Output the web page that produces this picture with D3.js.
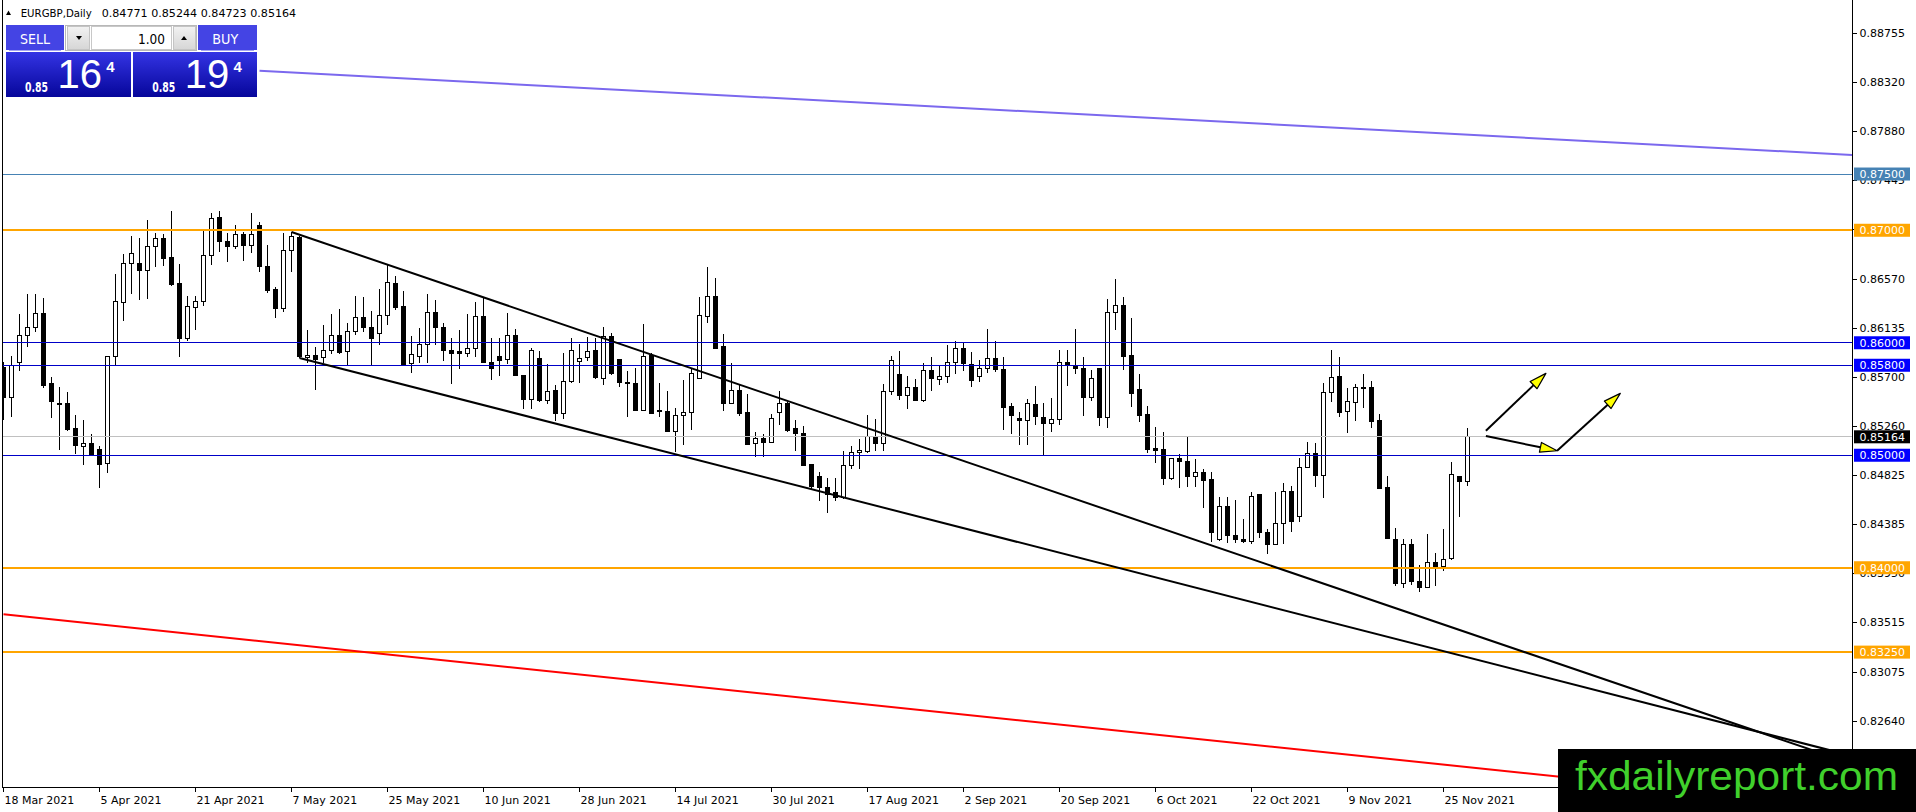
<!DOCTYPE html>
<html>
<head>
<meta charset="utf-8">
<script src="https://cdn.jsdelivr.net/npm/d3@7"></script>
<style>
  html, body { margin: 0; padding: 0; background: #fff; overflow: hidden; }
  svg { display: block; }
</style>
</head>
<body>
<div class="chart"></div>
<script>
// EURGBP daily bars, 18 Mar 2021 .. 30 Nov 2021 (one bar per trading day)
const openPrices = [
  0.85776, 0.85510, 0.85821, 0.86067, 0.86132, 0.86256, 0.85637, 0.85459, 0.85459, 0.85234,
  0.85080, 0.85101, 0.85050, 0.84923, 0.85874, 0.86354, 0.86701, 0.86704, 0.86644, 0.86852,
  0.86923, 0.86754, 0.86523, 0.86034, 0.86310, 0.86363, 0.86775, 0.87110, 0.86896, 0.86852,
  0.86961, 0.86867, 0.87041, 0.86680, 0.86473, 0.86301, 0.86822, 0.86932, 0.85865, 0.85886,
  0.85865, 0.85933, 0.86067, 0.85918, 0.86096, 0.86221, 0.86132, 0.86079, 0.86244, 0.86526,
  0.86319, 0.85815, 0.85881, 0.85985, 0.86267, 0.86133, 0.85935, 0.85926, 0.85908, 0.85947,
  0.86231, 0.85822, 0.85876, 0.85852, 0.86068, 0.85713, 0.85496, 0.85861, 0.85490, 0.85579,
  0.85369, 0.85653, 0.85837, 0.85867, 0.85932, 0.85680, 0.86059, 0.85849, 0.85650, 0.85639,
  0.85401, 0.85887, 0.85399, 0.85387, 0.85215, 0.85357, 0.85378, 0.85680, 0.86237, 0.86409,
  0.85964, 0.85458, 0.85576, 0.85378, 0.85102, 0.85150, 0.85111, 0.85378, 0.85461, 0.85239,
  0.85191, 0.84919, 0.84809, 0.84717, 0.84667, 0.84622, 0.84910, 0.85022, 0.85037, 0.85170,
  0.85102, 0.85564, 0.85719, 0.85535, 0.85600, 0.85487, 0.85754, 0.85674, 0.85698, 0.85822,
  0.85950, 0.85807, 0.85704, 0.85769, 0.85861, 0.85763, 0.85431, 0.85324, 0.85313, 0.85452,
  0.85333, 0.85280, 0.85318, 0.85822, 0.85793, 0.85772, 0.85517, 0.85772, 0.85333, 0.86267,
  0.86332, 0.85887, 0.85585, 0.85363, 0.85058, 0.85052, 0.84791, 0.84969, 0.84942, 0.84809,
  0.84844, 0.84785, 0.84252, 0.84548, 0.84290, 0.84252, 0.84231, 0.84652, 0.84311, 0.84207,
  0.84391, 0.84676, 0.84453, 0.84889, 0.85013, 0.84824, 0.85556, 0.85698, 0.85393, 0.85467,
  0.85597, 0.85600, 0.85310, 0.84711, 0.84252, 0.83861, 0.84210, 0.83881, 0.83822, 0.84044,
  0.84009, 0.84083, 0.84809, 0.84771
];
const highPrices = [
  0.85827, 0.85886, 0.86259, 0.86437, 0.86437, 0.86399, 0.85696, 0.85607, 0.85560, 0.85361,
  0.85317, 0.85190, 0.85080, 0.85874, 0.86615, 0.86793, 0.86953, 0.86932, 0.87095, 0.86976,
  0.86967, 0.87175, 0.86704, 0.86413, 0.86413, 0.86991, 0.87154, 0.87175, 0.86976, 0.87050,
  0.86985, 0.87154, 0.87074, 0.86873, 0.86496, 0.86976, 0.86985, 0.86953, 0.86117, 0.85960,
  0.86161, 0.86259, 0.86304, 0.86176, 0.86413, 0.86407, 0.86280, 0.86481, 0.86689, 0.86597,
  0.86458, 0.86058, 0.86127, 0.86436, 0.86376, 0.86178, 0.86044, 0.86116, 0.86258, 0.86364,
  0.86400, 0.86044, 0.86044, 0.86267, 0.86119, 0.85713, 0.85956, 0.85926, 0.85807, 0.85624,
  0.85905, 0.86039, 0.85985, 0.86050, 0.86044, 0.86142, 0.86089, 0.85849, 0.85748, 0.85778,
  0.86163, 0.85911, 0.85644, 0.85570, 0.85416, 0.85665, 0.85778, 0.86406, 0.86676, 0.86572,
  0.86080, 0.85822, 0.85636, 0.85547, 0.85209, 0.85185, 0.85363, 0.85570, 0.85476, 0.85313,
  0.85259, 0.84919, 0.84853, 0.84800, 0.84794, 0.85037, 0.85081, 0.85141, 0.85354, 0.85318,
  0.85630, 0.85881, 0.85926, 0.85704, 0.85680, 0.85822, 0.85873, 0.85793, 0.85976, 0.86015,
  0.86000, 0.85920, 0.85846, 0.86119, 0.86015, 0.85873, 0.85467, 0.85384, 0.85502, 0.85615,
  0.85467, 0.85511, 0.85932, 0.85932, 0.86119, 0.85876, 0.85754, 0.85772, 0.86391, 0.86563,
  0.86409, 0.86222, 0.85719, 0.85437, 0.85253, 0.85209, 0.84978, 0.85007, 0.85164, 0.84963,
  0.84880, 0.84853, 0.84628, 0.84628, 0.84598, 0.84430, 0.84673, 0.84652, 0.84347, 0.84676,
  0.84750, 0.84726, 0.84978, 0.85120, 0.85111, 0.85639, 0.85932, 0.85876, 0.85600, 0.85630,
  0.85724, 0.85659, 0.85363, 0.84815, 0.84350, 0.84252, 0.84252, 0.84024, 0.84299, 0.84127,
  0.84341, 0.84942, 0.84809, 0.85244
];
const lowPrices = [
  0.85317, 0.85341, 0.85747, 0.85963, 0.86093, 0.85598, 0.85332, 0.85044, 0.85213, 0.85012,
  0.84911, 0.84991, 0.84710, 0.84843, 0.85800, 0.86191, 0.86437, 0.86378, 0.86390, 0.86671,
  0.86680, 0.86508, 0.85874, 0.86013, 0.86111, 0.86324, 0.86695, 0.86804, 0.86716, 0.86834,
  0.86724, 0.86799, 0.86630, 0.86443, 0.86221, 0.86271, 0.86627, 0.85865, 0.85821, 0.85584,
  0.85821, 0.85904, 0.85904, 0.85797, 0.86073, 0.86096, 0.85806, 0.85984, 0.86161, 0.86295,
  0.85800, 0.85732, 0.85822, 0.85822, 0.85979, 0.85837, 0.85636, 0.85763, 0.85873, 0.85873,
  0.85819, 0.85668, 0.85704, 0.85807, 0.85710, 0.85407, 0.85407, 0.85476, 0.85452, 0.85304,
  0.85324, 0.85644, 0.85639, 0.85837, 0.85674, 0.85624, 0.85713, 0.85606, 0.85339, 0.85393,
  0.85393, 0.85372, 0.85339, 0.85209, 0.85031, 0.85090, 0.85221, 0.85674, 0.86178, 0.85941,
  0.85393, 0.85452, 0.85348, 0.85090, 0.84987, 0.84987, 0.85105, 0.85268, 0.85209, 0.85037,
  0.84904, 0.84696, 0.84593, 0.84489, 0.84593, 0.84607, 0.84874, 0.84874, 0.85022, 0.85037,
  0.85037, 0.85535, 0.85490, 0.85407, 0.85481, 0.85476, 0.85570, 0.85624, 0.85639, 0.85719,
  0.85748, 0.85606, 0.85650, 0.85727, 0.85739, 0.85224, 0.85191, 0.85087, 0.85087, 0.85268,
  0.84993, 0.85206, 0.85268, 0.85615, 0.85719, 0.85348, 0.85481, 0.85259, 0.85244, 0.86113,
  0.85757, 0.85431, 0.85295, 0.85022, 0.84933, 0.84735, 0.84779, 0.84711, 0.84720, 0.84720,
  0.84533, 0.84231, 0.84237, 0.84222, 0.84222, 0.84216, 0.84207, 0.84267, 0.84118, 0.84198,
  0.84207, 0.84317, 0.84409, 0.84883, 0.84717, 0.84616, 0.85473, 0.85342, 0.85200, 0.85304,
  0.85416, 0.85244, 0.84696, 0.84252, 0.83837, 0.83822, 0.83846, 0.83787, 0.83816, 0.83840,
  0.83970, 0.84070, 0.84453, 0.84723
];
const closePrices = [
  0.85510, 0.85800, 0.86064, 0.86132, 0.86256, 0.85622, 0.85474, 0.85447, 0.85228, 0.85089,
  0.85101, 0.85006, 0.84917, 0.85874, 0.86363, 0.86701, 0.86793, 0.86644, 0.86852, 0.86923,
  0.86745, 0.86517, 0.86034, 0.86319, 0.86363, 0.86778, 0.87101, 0.86902, 0.86852, 0.86961,
  0.86867, 0.86961, 0.86680, 0.86467, 0.86301, 0.86822, 0.86947, 0.85874, 0.85886, 0.85850,
  0.85933, 0.86067, 0.85916, 0.86096, 0.86221, 0.86132, 0.86034, 0.86244, 0.86532, 0.86316,
  0.85806, 0.85895, 0.85985, 0.86267, 0.86133, 0.85935, 0.85902, 0.85902, 0.85947, 0.86231,
  0.85822, 0.85769, 0.85846, 0.86068, 0.85713, 0.85496, 0.85935, 0.85490, 0.85564, 0.85369,
  0.85653, 0.85935, 0.85864, 0.85926, 0.85689, 0.86059, 0.85724, 0.85644, 0.85644, 0.85401,
  0.85876, 0.85372, 0.85387, 0.85215, 0.85357, 0.85378, 0.85724, 0.86243, 0.86409, 0.85947,
  0.85458, 0.85579, 0.85372, 0.85096, 0.85147, 0.85111, 0.85324, 0.85458, 0.85224, 0.85191,
  0.84913, 0.84726, 0.84711, 0.84652, 0.84628, 0.84910, 0.85022, 0.85043, 0.85170, 0.85102,
  0.85564, 0.85843, 0.85535, 0.85600, 0.85487, 0.85754, 0.85680, 0.85704, 0.85822, 0.85950,
  0.85813, 0.85668, 0.85772, 0.85861, 0.85763, 0.85428, 0.85357, 0.85313, 0.85461, 0.85342,
  0.85280, 0.85318, 0.85822, 0.85799, 0.85769, 0.85517, 0.85680, 0.85333, 0.86267, 0.86332,
  0.85881, 0.85550, 0.85357, 0.85052, 0.85046, 0.84791, 0.84969, 0.84942, 0.84809, 0.84844,
  0.84779, 0.84317, 0.84548, 0.84290, 0.84252, 0.84231, 0.84631, 0.84311, 0.84207, 0.84391,
  0.84676, 0.84409, 0.84889, 0.85013, 0.84824, 0.85556, 0.85689, 0.85384, 0.85476, 0.85600,
  0.85600, 0.85304, 0.84705, 0.84258, 0.83861, 0.84210, 0.83876, 0.83822, 0.84044, 0.84009,
  0.84077, 0.84830, 0.84770, 0.85164
];

// bar index -> date label on the time scale
const dateLabels = [
  [0, '18 Mar 2021'], [12, '5 Apr 2021'], [24, '21 Apr 2021'], [36, '7 May 2021'],
  [48, '25 May 2021'], [60, '10 Jun 2021'], [72, '28 Jun 2021'], [84, '14 Jul 2021'],
  [96, '30 Jul 2021'], [108, '17 Aug 2021'], [120, '2 Sep 2021'], [132, '20 Sep 2021'],
  [144, '6 Oct 2021'], [156, '22 Oct 2021'], [168, '9 Nov 2021'], [180, '25 Nov 2021']
];
const priceTicks = [
  0.88755, 0.88320, 0.87880, 0.87445, 0.87010, 0.86570, 0.86135, 0.85700,
  0.85260, 0.84825, 0.84385, 0.83950, 0.83515, 0.83075, 0.82640
];

// horizontal levels
const levelPrices = [0.875, 0.870, 0.860, 0.858, 0.850, 0.840, 0.8325];
const levelColors = ['#4682b4', '#ffa500', '#0000c8', '#0000c8', '#0000c8', '#ffa500', '#ffa500'];
const levelLabelColors = ['#4682b4', '#ffa500', '#0000ff', '#0000ff', '#0000ff', '#ffa500', '#ffa500'];
const levelWidths = [1, 2, 1, 1, 1, 2, 2];
const lastPrice = 0.85164;

// trend lines as [barIndex, price] anchor pairs, drawn as rays to the right
const trendAnchors = [
  [[36, 0.86985], [226, 0.82381]],
  [[37, 0.85865], [226, 0.82420]],
  [[32, 0.88418], [231, 0.87669]],
  [[0, 0.83586], [183, 0.82228]]
];
const trendColors = ['#000000', '#000000', '#7b68ee', '#ff0000'];

// projection arrows
const arrowAnchors = [
  [[185.3, 0.85218], [192.8, 0.85728]],
  [[185.3, 0.85171], [194.2, 0.85040]],
  [[194.2, 0.85040], [202.1, 0.85550]]
];

const width = 1916;
const height = 812;
const plot = { left: 2.5, right: 1852.5, top: 0, bottom: 787.5 };

const svg = d3
  .select('.chart')
  .append('svg')
  .attr('width', width)
  .attr('height', height)
  .attr('font-family', '"DejaVu Sans", sans-serif');

svg.append('rect').attr('width', width).attr('height', height).attr('fill', '#fff');

const defs = svg.append('defs');
defs
  .append('clipPath')
  .attr('id', 'plotClip')
  .append('rect')
  .attr('x', plot.left + 0.5)
  .attr('y', 0)
  .attr('width', plot.right - plot.left - 1)
  .attr('height', plot.bottom);

const grad = defs
  .append('linearGradient')
  .attr('id', 'priceGrad')
  .attr('x1', 0).attr('y1', 0).attr('x2', 0).attr('y2', 1);
grad.append('stop').attr('offset', '0%').attr('stop-color', '#3434e4');
grad.append('stop').attr('offset', '100%').attr('stop-color', '#06069a');

const btnGrad = defs
  .append('linearGradient')
  .attr('id', 'btnGrad')
  .attr('x1', 0).attr('y1', 0).attr('x2', 0).attr('y2', 1);
btnGrad.append('stop').attr('offset', '0%').attr('stop-color', '#f2f2f2');
btnGrad.append('stop').attr('offset', '100%').attr('stop-color', '#d6d6d6');

const x = d3.scaleLinear().domain([0, 231]).range([3.5, 3.5 + 8 * 231]);
const y = d3.scaleLinear().domain([0.82042, 0.89047]).range([788, 0]);

const bars = d3.range(closePrices.length).map((i) => ({
  i,
  o: openPrices[i],
  h: highPrices[i],
  l: lowPrices[i],
  c: closePrices[i]
}));

const chart = svg.append('g').attr('clip-path', 'url(#plotClip)');

// candles
const candle = chart
  .append('g')
  .attr('shape-rendering', 'crispEdges')
  .selectAll('g')
  .data(bars)
  .enter()
  .append('g');

candle
  .append('line')
  .attr('x1', (d) => x(d.i))
  .attr('x2', (d) => x(d.i))
  .attr('y1', (d) => y(d.h))
  .attr('y2', (d) => y(d.l))
  .attr('stroke', '#000');

candle
  .append('rect')
  .attr('x', (d) => x(d.i) - 2)
  .attr('width', 4)
  .attr('y', (d) => y(Math.max(d.o, d.c)))
  .attr('height', (d) => Math.max(1, Math.abs(y(d.o) - y(d.c))))
  .attr('fill', (d) => (d.c >= d.o ? '#fff' : '#000'))
  .attr('stroke', '#000');

// bid line
chart
  .append('line')
  .attr('x1', plot.left)
  .attr('x2', plot.right)
  .attr('y1', y(lastPrice))
  .attr('y2', y(lastPrice))
  .attr('stroke', '#c0c0c0')
  .attr('shape-rendering', 'crispEdges');

// horizontal levels
chart
  .append('g')
  .selectAll('line')
  .data(levelPrices)
  .enter()
  .append('line')
  .attr('x1', plot.left)
  .attr('x2', plot.right)
  .attr('y1', (d) => y(d))
  .attr('y2', (d) => y(d))
  .attr('stroke', (d, i) => levelColors[i])
  .attr('stroke-width', (d, i) => levelWidths[i])
  .attr('shape-rendering', 'crispEdges');

// rays
const ray = (a) => {
  const x1 = x(a[0][0]);
  const y1 = y(a[0][1]);
  const slope = (y(a[1][1]) - y1) / (x(a[1][0]) - x1);
  return [x1, y1, plot.right, y1 + slope * (plot.right - x1)];
};

chart
  .append('g')
  .selectAll('line')
  .data(trendAnchors)
  .enter()
  .append('line')
  .each(function (d, i) {
    const [x1, y1, x2, y2] = ray(d);
    d3.select(this)
      .attr('x1', x1).attr('y1', y1)
      .attr('x2', x2).attr('y2', y2)
      .attr('stroke', trendColors[i])
      .attr('stroke-width', 2);
  });

// arrows
const arrowG = chart.append('g');
arrowAnchors.forEach((a) => {
  const x1 = x(a[0][0]);
  const y1 = y(a[0][1]);
  const x2 = x(a[1][0]);
  const y2 = y(a[1][1]);
  const len = Math.hypot(x2 - x1, y2 - y1);
  const ux = (x2 - x1) / len;
  const uy = (y2 - y1) / len;
  const bx = x2 - ux * 17;
  const by = y2 - uy * 17;
  arrowG
    .append('line')
    .attr('x1', x1).attr('y1', y1)
    .attr('x2', bx).attr('y2', by)
    .attr('stroke', '#000')
    .attr('stroke-width', 2);
  arrowG
    .append('path')
    .attr('d', `M${x2},${y2}L${bx - uy * 5},${by + ux * 5}L${bx + uy * 5},${by - ux * 5}Z`)
    .attr('fill', '#ffff00')
    .attr('stroke', '#000')
    .attr('stroke-width', 1.2)
    .attr('stroke-linejoin', 'round');
});

// frame
const frame = svg.append('g').attr('stroke', '#000').attr('shape-rendering', 'crispEdges');
frame.append('line').attr('x1', plot.left).attr('x2', plot.left).attr('y1', 0).attr('y2', plot.bottom);
frame.append('line').attr('x1', plot.left).attr('x2', plot.right).attr('y1', plot.bottom).attr('y2', plot.bottom);
frame.append('line').attr('x1', plot.right).attr('x2', plot.right).attr('y1', 0).attr('y2', plot.bottom);

// price scale
const fmt = d3.format('.5f');
const yAxis = svg
  .append('g')
  .attr('transform', `translate(${plot.right}, 0)`)
  .call(d3.axisRight(y).tickValues(priceTicks).tickFormat(fmt).tickSize(4).tickPadding(3));
yAxis.select('.domain').remove();
yAxis.selectAll('.tick line').attr('stroke', '#000').attr('shape-rendering', 'crispEdges');
yAxis
  .selectAll('.tick text')
  .attr('font-size', '11px')
  .attr('font-family', '"DejaVu Sans", sans-serif')
  .attr('fill', '#000');

const tags = svg.append('g');
const tag = (v, bg) => {
  tags
    .append('rect')
    .attr('x', plot.right + 1.5)
    .attr('y', y(v) - 6.5)
    .attr('width', 56)
    .attr('height', 13)
    .attr('fill', bg);
  tags
    .append('text')
    .attr('x', plot.right + 7)
    .attr('y', y(v))
    .attr('dy', '0.35em')
    .attr('font-size', '11px')
    .attr('fill', '#fff')
    .text(fmt(v));
};
levelPrices.forEach((v, i) => tag(v, levelLabelColors[i]));
tag(lastPrice, '#000');

// time scale
const dates = svg.append('g');
dates
  .selectAll('line')
  .data(dateLabels)
  .enter()
  .append('line')
  .attr('x1', (d) => x(d[0]))
  .attr('x2', (d) => x(d[0]))
  .attr('y1', plot.bottom)
  .attr('y2', plot.bottom + 4)
  .attr('stroke', '#000')
  .attr('shape-rendering', 'crispEdges');
dates
  .selectAll('text')
  .data(dateLabels)
  .enter()
  .append('text')
  .attr('x', (d) => x(d[0]) + 1)
  .attr('y', 804)
  .attr('font-size', '11px')
  .attr('fill', '#000')
  .text((d) => d[1]);

// title
svg.append('path').attr('d', 'M6,15L11,15L8.5,10.5Z').attr('fill', '#000');
svg
  .append('text')
  .attr('x', 20.7)
  .attr('y', 17)
  .attr('font-size', '11px')
  .attr('textLength', 71)
  .attr('lengthAdjust', 'spacingAndGlyphs')
  .text('EURGBP,Daily');
svg
  .append('text')
  .attr('x', 101.7)
  .attr('y', 17)
  .attr('font-size', '11px')
  .attr('textLength', 194.5)
  .attr('lengthAdjust', 'spacingAndGlyphs')
  .text('0.84771 0.85244 0.84723 0.85164');

// one-click trading panel
const panel = svg.append('g').attr('shape-rendering', 'crispEdges');
panel.append('rect').attr('x', 65.5).attr('y', 25.5).attr('width', 131).attr('height', 25).attr('fill', '#fff').attr('stroke', '#b8b8b8');
panel.append('rect').attr('x', 67.5).attr('y', 26.5).attr('width', 22).attr('height', 23).attr('fill', 'url(#btnGrad)').attr('stroke', '#c4c4c4');
panel.append('rect').attr('x', 173.5).attr('y', 26.5).attr('width', 22).attr('height', 23).attr('fill', 'url(#btnGrad)').attr('stroke', '#c4c4c4');
panel.append('rect').attr('x', 91.5).attr('y', 26.5).attr('width', 80).attr('height', 23).attr('fill', '#fff').attr('stroke', '#c8c8c8');

const header = (x0, w, label, tw) => {
  panel.append('rect').attr('x', x0).attr('y', 25).attr('width', w).attr('height', 25).attr('fill', '#4444e4');
  panel.append('rect').attr('x', x0 + 3).attr('y', 50).attr('width', w - 6).attr('height', 1).attr('fill', '#a4a4f2');
  panel
    .append('text')
    .attr('x', x0 + 14)
    .attr('y', 44.3)
    .attr('font-size', '14px')
    .attr('fill', '#fff')
    .attr('textLength', tw)
    .attr('lengthAdjust', 'spacingAndGlyphs')
    .text(label);
};
header(6, 57.5, 'SELL', 30);
header(198.3, 58.4, 'BUY', 26);

panel.append('path').attr('d', 'M76,36L82,36L79,40Z').attr('fill', '#000').attr('shape-rendering', 'auto');
panel.append('path').attr('d', 'M181,40L187,40L184,36Z').attr('fill', '#000').attr('shape-rendering', 'auto');
panel
  .append('text')
  .attr('x', 165)
  .attr('y', 44)
  .attr('text-anchor', 'end')
  .attr('font-size', '14px')
  .attr('fill', '#000')
  .attr('textLength', 27)
  .attr('lengthAdjust', 'spacingAndGlyphs')
  .text('1.00');

const quote = (x0, w, big) => {
  panel.append('rect').attr('x', x0).attr('y', 52).attr('width', w).attr('height', 45).attr('fill', 'url(#priceGrad)');
  panel
    .append('text')
    .attr('x', x0 + 19)
    .attr('y', 91.5)
    .attr('font-size', '14.5px')
    .attr('font-weight', 'bold')
    .attr('fill', '#fff')
    .attr('textLength', 23)
    .attr('lengthAdjust', 'spacingAndGlyphs')
    .text('0.85');
  panel
    .append('text')
    .attr('x', x0 + 51.5)
    .attr('y', 88.3)
    .attr('font-family', '"Liberation Sans", Arial, sans-serif')
    .attr('font-size', '40px')
    .attr('fill', '#fff')
    .text(big);
  panel
    .append('text')
    .attr('x', x0 + 100.3)
    .attr('y', 72)
    .attr('font-family', '"Liberation Sans", Arial, sans-serif')
    .attr('font-size', '15px')
    .attr('font-weight', 'bold')
    .attr('fill', '#fff')
    .text('4');
};
quote(6, 125, '16');
quote(133.3, 123.4, '19');

// watermark
svg.append('rect').attr('x', 1558).attr('y', 749).attr('width', 358).attr('height', 63).attr('fill', '#000');
svg
  .append('text')
  .attr('x', 1575)
  .attr('y', 790)
  .attr('font-family', '"Liberation Sans", Arial, sans-serif')
  .attr('font-size', '41px')
  .attr('fill', '#40d02c')
  .attr('textLength', 323)
  .attr('lengthAdjust', 'spacingAndGlyphs')
  .text('fxdailyreport.com');
</script>
</body>
</html>
